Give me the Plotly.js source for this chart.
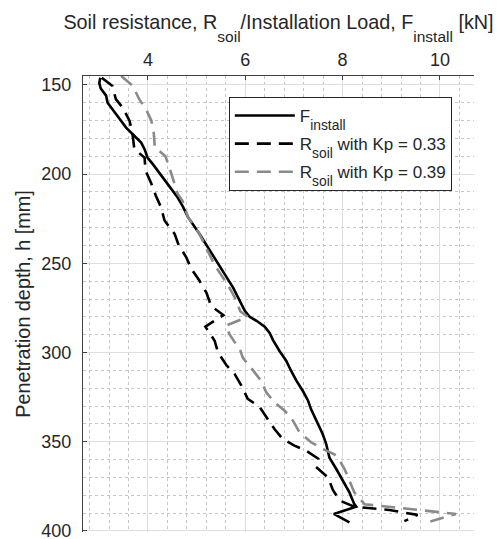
<!DOCTYPE html>
<html>
<head>
<meta charset="utf-8">
<script src="https://cdn.plot.ly/plotly-3.0.1.min.js"></script>
<style>html,body{margin:0;padding:0;background:#fff;}#chart{width:502px;height:539px;}</style>
</head>
<body>
<div id="chart"></div>
<script>
// F_install (solid black): load [kN] and depth [mm]
const fInstallLoad  = [3.02,3.00,3.03,3.14,3.17,3.24,3.34,3.45,3.55,3.65,3.75,3.86,3.93,3.99,4.10,4.20,4.30,4.41,4.51,4.61,4.71,4.82,5.06,5.40,5.75,5.99,6.09,6.23,6.40,6.50,6.57,6.70,6.84,6.94,7.05,7.18,7.29,7.35,7.46,7.59,7.66,7.73,7.87,8.00,8.14,8.24,8.28,7.82,8.14];
const fInstallDepth = [146,149,152,156,160,162.7,166.4,170.2,173.9,176.7,179.5,182.3,186,190.7,194.4,198.2,201.9,205.6,209.4,213.1,217.8,224,233.6,248.6,263.6,276.6,280,282.2,285.5,289,293,299,304.6,310.2,315.8,321.4,327,331.7,338,345.7,351,359,365.3,371.8,378.4,385,386.4,390.5,395.2];

// R_soil with Kp = 0.33 (dashed black)
const rSoil033Load  = [3.05,3.27,3.34,3.48,3.62,3.68,3.72,3.93,3.95,4.06,4.16,4.27,4.34,4.55,4.62,4.79,4.89,5.06,5.20,5.30,5.55,5.18,5.37,5.44,5.61,5.78,5.92,6.05,6.29,6.43,6.60,6.77,7.01,7.25,7.50,7.45,7.70,7.80,7.94,8.24,8.96,9.54,9.27];
const rSoil033Depth = [146,150.6,158,162.7,170,177,186,190.7,198,204.7,212,218.7,226,233.6,239,246.8,253,259.8,266.4,274,279,285.5,293.4,300,307,312,318.6,326,330.4,336.3,342.9,348.5,352.2,355,359.5,364,370,377,383,386.4,388.3,391,394.5];

// R_soil with Kp = 0.39 (dashed grey)
const rSoil039Load  = [3.45,3.69,3.82,3.96,4.07,4.12,4.14,4.36,4.44,4.51,4.61,4.71,4.82,5.06,5.37,5.64,5.78,5.90,6.05,5.60,5.68,5.90,5.95,6.16,6.33,6.43,6.60,6.81,6.98,7.11,7.35,7.59,7.83,7.94,8.04,8.14,8.24,8.45,9.58,10.33,9.75];
const rSoil039Depth = [145,150.6,158,163.6,170,177,185,190,196.3,202.8,211,215,224,233.6,251,262,269,277,280,285,290,299,303,310,316,322.3,328,332.6,338.2,344.5,350.3,354,357,360.6,365.3,371.8,378.4,385,388.5,390.5,395.2];

const xTickVals = [4, 6, 8, 10];
const yTickVals = [150, 200, 250, 300, 350, 400];

// TeX-like subscripts (larger and lower than Plotly's default <sub>)
const legSub = s => '<span style="font-size:13.8px;baseline-shift:-8px">' + s + '</span>';
const ttlSub = s => '<span style="font-size:15.5px;baseline-shift:-13px">' + s + '</span>';
const seriesNames = ['F' + legSub('install'), 'R' + legSub('soil') + ' with Kp = 0.33', 'R' + legSub('soil') + ' with Kp = 0.39'];
const xTitle = 'Soil resistance, R' + ttlSub('soil') + '/Installation Load, F' + ttlSub('install') + ' [kN]';
const yTitle = 'Penetration depth, h [mm]';

const fontFam = '"Liberation Sans", Arial, Helvetica, sans-serif';
const txtCol = '#262626';

const traces = [
  {x: fInstallLoad, y: fInstallDepth, name: seriesNames[0], mode: 'lines', legendgroup: 'a',
   line: {color: '#000000', width: 2.6}},
  {x: rSoil033Load, y: rSoil033Depth, name: seriesNames[1], mode: 'lines', legendgroup: 'b',
   line: {color: '#000000', width: 2.6, dash: '14px,8px'}},
  {x: rSoil039Load, y: rSoil039Depth, name: seriesNames[2], mode: 'lines', legendgroup: 'c',
   line: {color: '#8a8a8a', width: 2.6, dash: '14px,8px'}}
];

const layout = {
  width: 502, height: 539,
  margin: {l: 83, r: 28, t: 76, b: 7},
  paper_bgcolor: '#ffffff', plot_bgcolor: '#ffffff',
  font: {family: fontFam, size: 18, color: txtCol},
  showlegend: true,
  legend: {
    x: 0.373, y: 0.954, xanchor: 'left', yanchor: 'top',
    bgcolor: '#ffffff', bordercolor: '#262626', borderwidth: 1,
    font: {family: fontFam, size: 17, color: txtCol},
    itemwidth: 60,
    tracegroupgap: 3
  },
  xaxis: {
    side: 'top', range: [2.665, 10.7],
    tickvals: xTickVals, ticktext: xTickVals.map(String),
    ticks: 'inside', ticklen: 4, tickcolor: '#404040',
    showline: true, linecolor: '#404040', linewidth: 1,
    showgrid: true, gridcolor: '#dedede', gridwidth: 1,
    zeroline: false,
    minor: {dtick: 0.4, tick0: 0, showgrid: true, gridcolor: '#c4c4c4', griddash: 'dot', gridwidth: 1},
    tickfont: {family: fontFam, size: 18, color: txtCol},
    ticklabelstandoff: 2,
    ticklabeloverflow: 'allow',
    title: {text: xTitle, font: {family: fontFam, size: 19.8, color: txtCol}, standoff: 14}
  },
  yaxis: {
    range: [400.6, 145],
    tickvals: yTickVals, ticktext: yTickVals.map(String),
    ticks: 'inside', ticklen: 4, tickcolor: '#404040',
    showline: true, linecolor: '#404040', linewidth: 1,
    showgrid: true, gridcolor: '#dedede', gridwidth: 1,
    zeroline: false,
    minor: {dtick: 10, tick0: 0, showgrid: true, gridcolor: '#c4c4c4', griddash: 'dot', gridwidth: 1},
    tickfont: {family: fontFam, size: 18, color: txtCol},
    ticklabelstandoff: 7,
    ticklabeloverflow: 'allow',
    title: {text: yTitle, font: {family: fontFam, size: 19.8, color: txtCol}, standoff: 5}
  }
};

Plotly.newPlot('chart', traces, layout, {displayModeBar: false, staticPlot: true});
</script>
</body>
</html>
